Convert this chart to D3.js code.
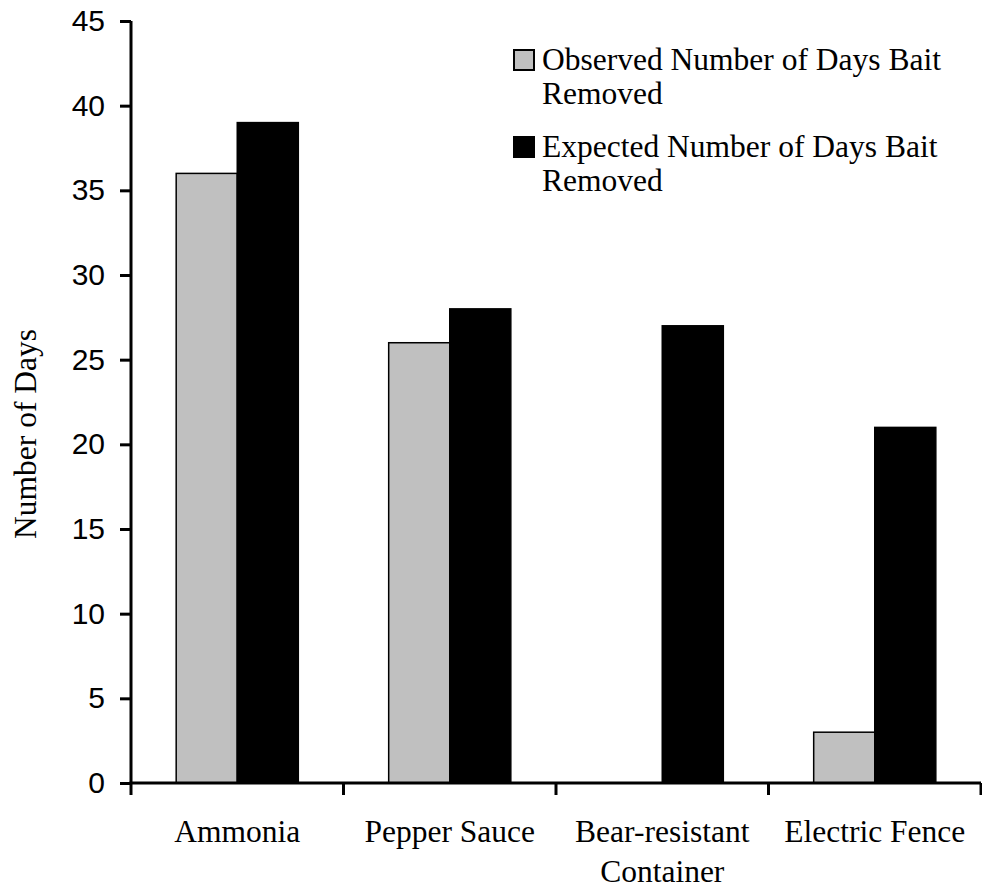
<!DOCTYPE html>
<html>
<head>
<meta charset="utf-8">
<script src="https://cdn.jsdelivr.net/npm/d3@7"></script>
<style>
  html, body { margin: 0; padding: 0; background: #fff; }
  svg { display: block; }
</style>
</head>
<body>
<svg id="chart" width="982" height="888"></svg>
<script>
// Bait-removal trials by deterrent type
const categories = [["Ammonia"], ["Pepper Sauce"], ["Bear-resistant", "Container"], ["Electric Fence"]];
const seriesNames = ["Observed Number of Days Bait Removed", "Expected Number of Days Bait Removed"];
const legendLines = [["Observed Number of Days Bait", "Removed"], ["Expected Number of Days Bait", "Removed"]];
const observed = [36, 26, 0, 3];
const expected = [39, 28, 27, 21];
const yTicks = [0, 5, 10, 15, 20, 25, 30, 35, 40, 45];
const yTitle = "Number of Days";

const fills = ["#c0c0c0", "#000000"];
const serif = "'Liberation Serif', 'Times New Roman', serif";
const sans = "'Liberation Sans', Arial, sans-serif";

const svg = d3.select("#chart");
const plot = { left: 131, right: 981, top: 21, bottom: 783 };

const catKeys = categories.map(c => c.join(" "));
const x = d3.scaleBand().domain(catKeys).range([plot.left, plot.right]).padding(0);
const x1 = d3.scaleBand().domain(seriesNames).range([0, x.bandwidth()])
  .paddingInner(0).paddingOuter(0.74);
const y = d3.scaleLinear().domain([0, 45]).range([plot.bottom, plot.top]);

const rows = catKeys.map((k, i) => ({ key: k, values: [observed[i], expected[i]] }));

// bars
const groups = svg.append("g").selectAll("g").data(rows).join("g")
  .attr("transform", d => `translate(${x(d.key)},0)`);
groups.selectAll("rect")
  .data(d => d.values.map((v, j) => ({ s: seriesNames[j], v, j })).filter(e => e.v > 0))
  .join("rect")
  .attr("x", e => x1(e.s))
  .attr("width", x1.bandwidth())
  .attr("y", e => y(e.v))
  .attr("height", e => y(0) - y(e.v))
  .attr("fill", e => fills[e.j])
  .attr("stroke", "#000")
  .attr("stroke-width", 1.5);

// y axis
const yAxis = svg.append("g")
  .attr("transform", `translate(${plot.left},0)`)
  .call(d3.axisLeft(y).tickValues(yTicks).tickSize(11).tickPadding(15).tickSizeOuter(0));
yAxis.select(".domain").attr("stroke-width", 3).attr("d", `M0,${plot.top}V${plot.bottom}`);
yAxis.selectAll(".tick line").attr("stroke-width", 3);
yAxis.selectAll(".tick text")
  .attr("font-family", sans).attr("font-size", 30).attr("fill", "#000");

// x axis with ticks at category boundaries
const xAxis = svg.append("g");
xAxis.append("line")
  .attr("x1", plot.left - 1.5).attr("x2", plot.right)
  .attr("y1", plot.bottom).attr("y2", plot.bottom)
  .attr("stroke", "#000").attr("stroke-width", 3);
const bounds = catKeys.map(k => x(k)).concat([plot.right]);
xAxis.selectAll(".xt").data(bounds).join("line")
  .attr("class", "xt")
  .attr("x1", d => d).attr("x2", d => d)
  .attr("y1", plot.bottom).attr("y2", plot.bottom + 12)
  .attr("stroke", "#000").attr("stroke-width", 3);

// category labels
const labels = svg.append("g").selectAll("text").data(categories).join("text")
  .attr("x", (d, i) => x(catKeys[i]) + x.bandwidth() / 2)
  .attr("y", 842)
  .attr("text-anchor", "middle")
  .attr("font-family", serif).attr("font-size", 31.5).attr("fill", "#000");
labels.selectAll("tspan").data(d => d).join("tspan")
  .attr("x", function () { return this.parentNode.getAttribute("x"); })
  .attr("dy", (d, i) => i === 0 ? 0 : 40)
  .text(d => d);

// y title
svg.append("text")
  .attr("transform", "translate(36,434) rotate(-90)")
  .attr("text-anchor", "middle")
  .attr("font-family", serif).attr("font-size", 31.5).attr("fill", "#000")
  .text(yTitle);

// legend
const legendTops = [70, 157];
const lg = svg.append("g").selectAll("g").data(legendLines).join("g");
lg.append("rect")
  .attr("x", 514).attr("y", (d, i) => legendTops[i] - 20)
  .attr("width", 20).attr("height", 20)
  .attr("fill", (d, i) => fills[i])
  .attr("stroke", "#000").attr("stroke-width", 2);
const lt = lg.append("text")
  .attr("x", 542).attr("y", (d, i) => legendTops[i])
  .attr("font-family", serif).attr("font-size", 31.5).attr("fill", "#000");
lt.selectAll("tspan").data(d => d).join("tspan")
  .attr("x", 542)
  .attr("dy", (d, i) => i === 0 ? 0 : 34)
  .text(d => d);
</script>
</body>
</html>
